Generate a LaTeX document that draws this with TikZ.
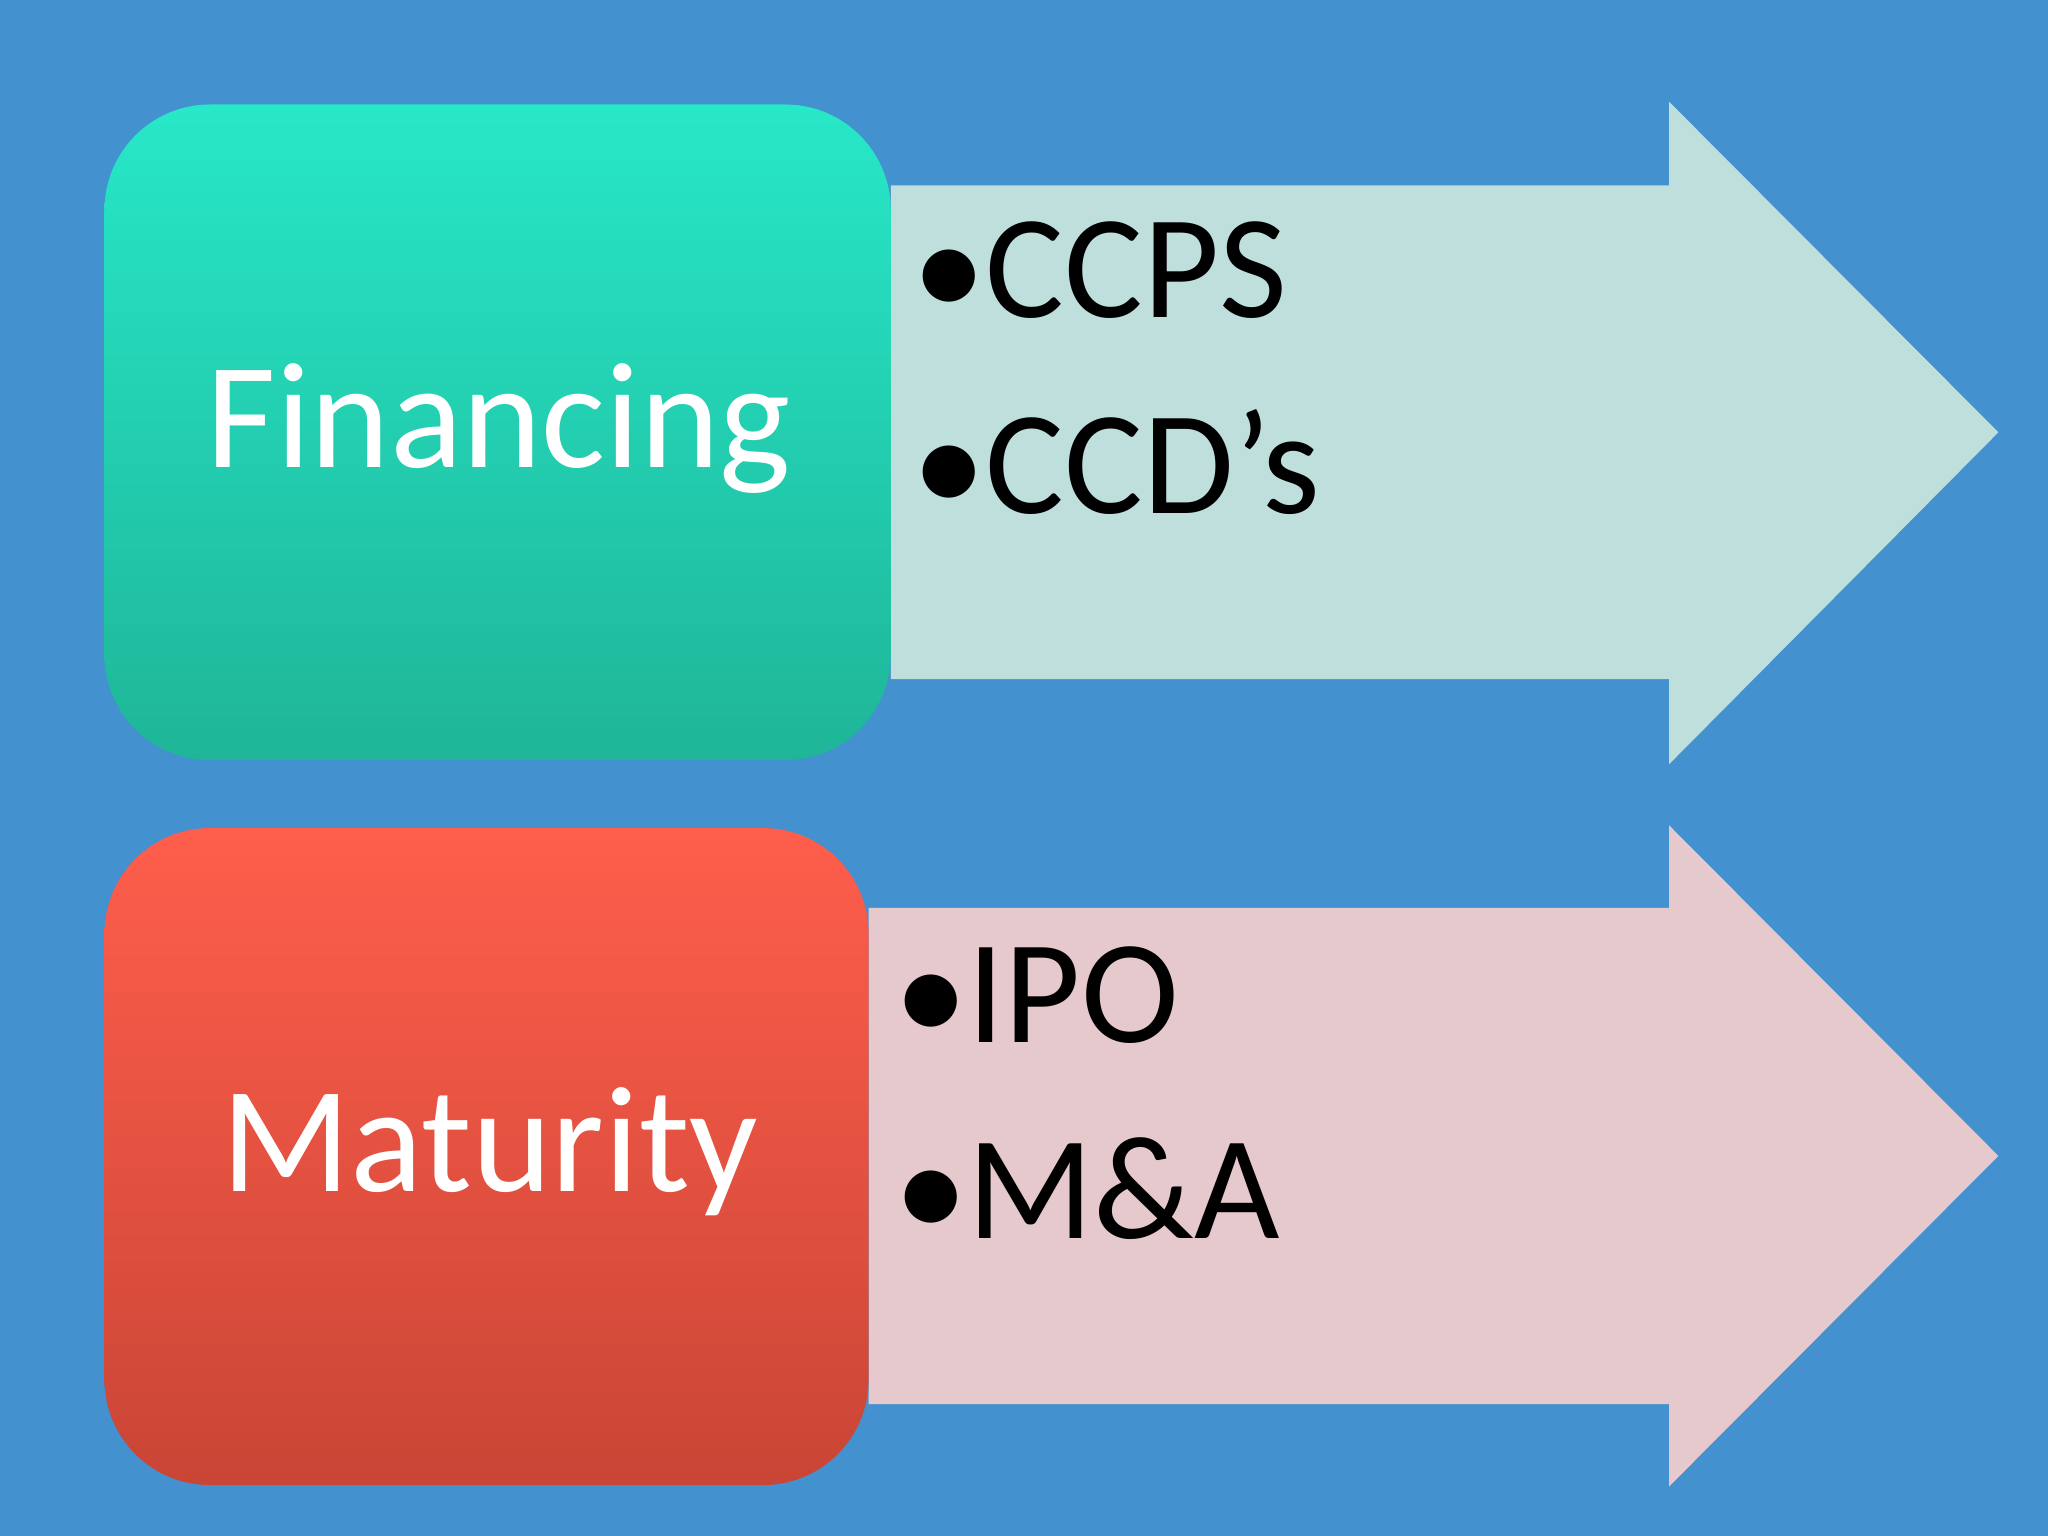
\documentclass[tikz,border=0pt]{standalone}
\usepackage{fontspec}
\setmainfont{Carlito}
\begin{document}
\begin{tikzpicture}[x=0.013061cm,y=-0.013061cm,
  boxtxt/.style={text=white,font=\fontsize{43}{50}\selectfont},
  bul/.style={text=black,anchor=base west,inner sep=0,font=\fontsize{42}{50}\selectfont}]
\definecolor{bg}{HTML}{4391CF}
\definecolor{tealT}{HTML}{27E8C8}\definecolor{tealB}{HTML}{1FB598}
\definecolor{redT}{HTML}{FF5E4C}\definecolor{redB}{HTML}{C94535}
\definecolor{arrA}{HTML}{BFDFDD}\definecolor{arrB}{HTML}{E6C9CC}
\fill[bg] (0,0) rectangle (1568,1176);
\useasboundingbox (0,0) rectangle (1568,1176);
% arrows
\fill[arrA] (682,142) -- (1278,142) -- (1278,78) -- (1530,331) -- (1278,585) -- (1278,520) -- (682,520) -- cycle;
\fill[arrB] (665,695) -- (1278,695) -- (1278,632) -- (1530,885) -- (1278,1138) -- (1278,1075) -- (665,1075) -- cycle;
% boxes
\shade[top color=tealT,bottom color=tealB,rounded corners=30pt] (80,80) rectangle (682,582);
\shade[top color=redT,bottom color=redB,rounded corners=30pt] (80,634) rectangle (665,1137);
\node[boxtxt] (fin) at (382,328) {Financing};
\node[boxtxt] (mat) at (375,882) {Maturity};
\node[bul] (ccps) at (698,243) {•CCPS};
\node[bul] (ccd) at (698,393) {•CCD’s};
\node[bul] (ipo) at (684,798) {•IPO};
\node[bul] (ma) at (684,948) {•M\&A};
\end{tikzpicture}
\end{document}
